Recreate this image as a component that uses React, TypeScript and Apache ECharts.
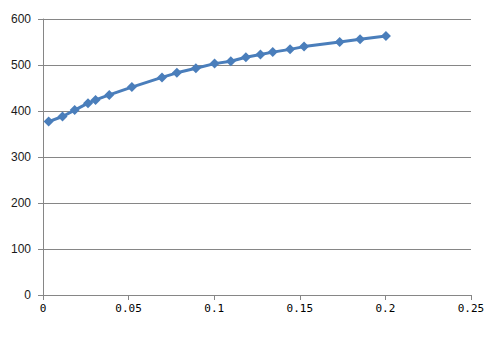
import React, { useEffect, useRef } from "react";
import * as echarts from "echarts";

const xValues = [0.0033, 0.0114, 0.0185, 0.0263, 0.0307, 0.0387, 0.0519, 0.0695, 0.0782, 0.0893, 0.1002, 0.1097, 0.1185, 0.127, 0.1342, 0.1443, 0.1525, 0.1733, 0.1852, 0.2003];
const yValues = [377, 388, 402, 417, 424, 435, 452, 473, 483, 493, 503, 508, 517, 523, 528, 534, 540, 550, 556, 563];

export default function App() {
  const ref = useRef<HTMLDivElement>(null);
  useEffect(() => {
    if (!ref.current) return;
    const chart = echarts.init(ref.current, null, { renderer: "svg" });
    chart.setOption({
      animation: false,
      backgroundColor: "#ffffff",
      grid: { left: 43, right: 23, top: 19, bottom: 47, containLabel: false },
      xAxis: {
        type: "value",
        min: 0,
        max: 0.25,
        interval: 0.05,
        axisLine: { show: true, lineStyle: { color: "#868686", width: 1 } },
        axisTick: { show: true, length: 5, lineStyle: { color: "#868686" } },
        splitLine: { show: false },
        axisLabel: {
          color: "#000000",
          fontFamily: "DejaVu Sans Mono",
          fontSize: 11,
          margin: 8,
          formatter: (v: number) => String(+v.toFixed(2)),
        },
      },
      yAxis: {
        type: "value",
        min: 0,
        max: 600,
        interval: 100,
        axisLine: { show: true, lineStyle: { color: "#868686", width: 1 } },
        axisTick: { show: true, length: 5, lineStyle: { color: "#868686" } },
        splitLine: { show: true, lineStyle: { color: "#868686", width: 1 } },
        axisLabel: {
          color: "#1a1a1a",
          fontFamily: "Liberation Sans",
          fontSize: 12,
          margin: 12,
        },
      },
      series: [
        {
          type: "line",
          data: xValues.map((x, i) => [x, yValues[i]]),
          symbol: "diamond",
          symbolSize: 10,
          showSymbol: true,
          lineStyle: { color: "#4a7ebb", width: 3 },
          itemStyle: { color: "#4a7ebb" },
        },
      ],
    });
    return () => chart.dispose();
  }, []);
  return <div ref={ref} style={{ position: "fixed", left: 0, top: 0, width: 494, height: 342 }} />;
}
